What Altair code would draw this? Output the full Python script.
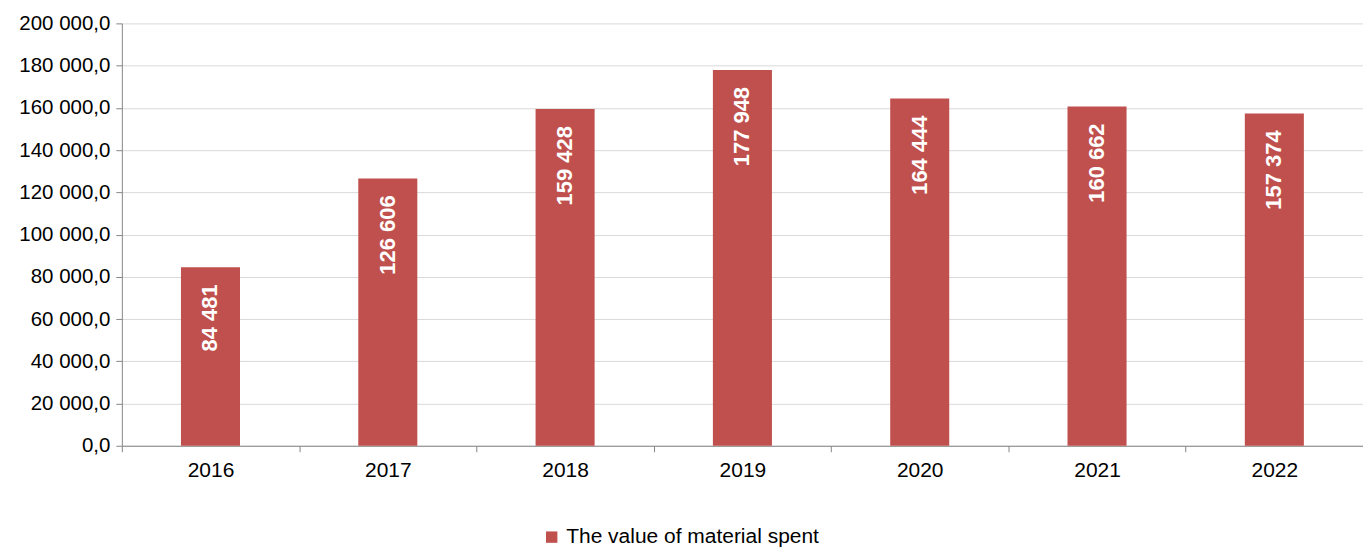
import altair as alt
import pandas as pd

years = ["2016", "2017", "2018", "2019", "2020", "2021", "2022"]
values = [84481, 126606, 159428, 177948, 164444, 160662, 157374]
series_name = "The value of material spent"

df = pd.DataFrame({"year": years, "value": values, "series": [series_name] * len(years)})

FONT = "Liberation Sans"
RED = "#c0504d"

base = alt.Chart(df).encode(
    x=alt.X(
        "year:N",
        sort=years,
        scale=alt.Scale(paddingInner=0, paddingOuter=0),
        axis=alt.Axis(
            title=None,
            labelAngle=0,
            labelFont=FONT,
            labelFontSize=21,
            labelColor="#000000",
            labelPadding=8,
            tickBand="extent",
            tickSize=6,
            tickColor="#868686",
            domainColor="#868686",
            grid=False,
        ),
    )
)

bars = base.mark_bar(width={"band": 0.333}, color=RED).encode(
    y=alt.Y(
        "value:Q",
        scale=alt.Scale(domain=[0, 200000], nice=False),
        axis=alt.Axis(
            title=None,
            values=list(range(0, 200001, 20000)),
            labelExpr="replace(replace(format(datum.value, ',.1f'), regexp(',', 'g'), ' '), '.', ',')",
            labelFont=FONT,
            labelFontSize=20.5,
            labelColor="#000000",
            labelPadding=6,
            tickSize=6,
            tickColor="#868686",
            domainColor="#868686",
            gridColor="#d9d9d9",
            gridWidth=1,
        ),
    ),
    color=alt.Color(
        "series:N",
        scale=alt.Scale(range=[RED]),
        legend=alt.Legend(
            title=None,
            orient="none",
            legendX=420,
            legendY=504,
            symbolType="square",
            symbolSize=130,
            symbolStrokeWidth=0,
            labelFont=FONT,
            labelFontSize=21,
            labelColor="#000000",
            labelOffset=4,
            labelLimit=500,
        ),
    ),
)

labels = base.mark_text(
    angle=270,
    align="right",
    baseline="middle",
    dx=-17,
    font=FONT,
    fontSize=22,
    fontWeight="bold",
    color="white",
).transform_calculate(
    label="replace(format(datum.value, ','), regexp(',', 'g'), ' ')"
).encode(
    y="value:Q",
    text="label:N",
)

chart = (
    alt.layer(bars, labels)
    .properties(
        width=1243,
        height=423,
        autosize=alt.AutoSizeParams(type="none"),
        padding={"left": 114, "top": 15, "right": 0, "bottom": 110},
    )
    .configure_view(stroke=None)
)

chart.save("out.html", embed_options={"renderer": "svg", "actions": False})
